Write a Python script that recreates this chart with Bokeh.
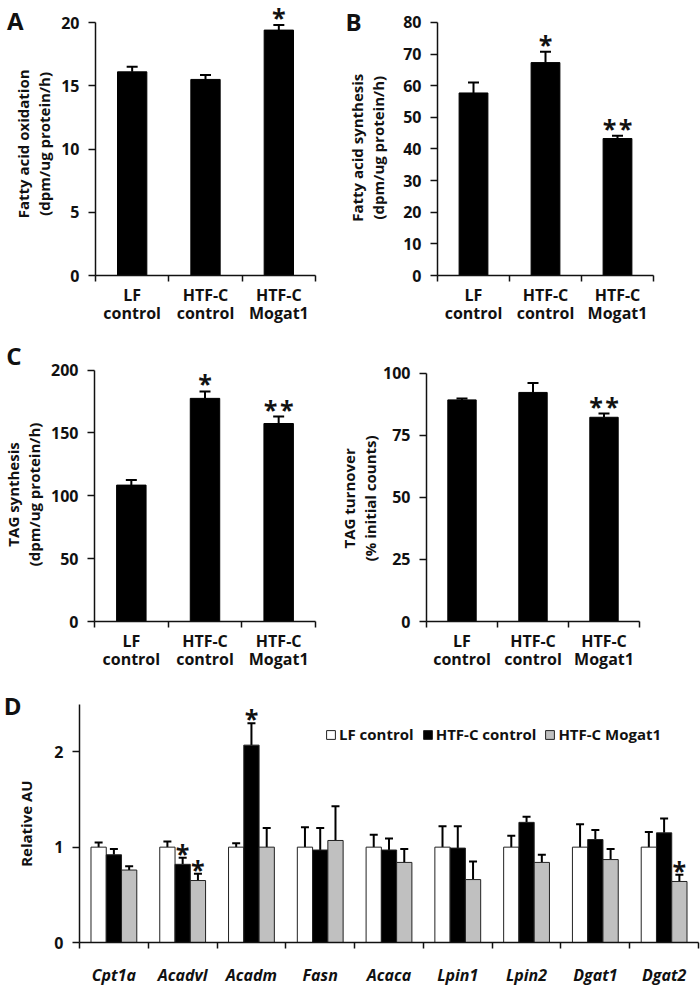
from bokeh.plotting import figure
from bokeh.models import (Range1d, FixedTicker, Whisker, ColumnDataSource,
                          Legend, LegendItem, TeeHead, LinearAxis)
from bokeh.layouts import column, row
from bokeh.embed import file_html
from bokeh.resources import INLINE
from bokeh.core.properties import value

# ---------------- data ----------------
groups = ["LF\ncontrol", "HTF-C\ncontrol", "HTF-C\nMogat1"]

fao_mean = [16.1, 15.5, 19.4]
fao_err = [0.4, 0.35, 0.4]
fao_sig = ["", "", "*"]

fas_mean = [57.7, 67.3, 43.3]
fas_err = [3.3, 3.4, 0.9]
fas_sig = ["", "*", "**"]

tags_mean = [108.5, 177.5, 157.5]
tags_err = [4.0, 5.5, 5.5]
tags_sig = ["", "*", "**"]

tagt_mean = [89.2, 92.2, 82.2]
tagt_err = [0.6, 3.8, 1.5]
tagt_sig = ["", "", "**"]

genes = ["Cpt1a", "Acadvl", "Acadm", "Fasn", "Acaca", "Lpin1", "Lpin2", "Dgat1", "Dgat2"]
series_names = ["LF control", "HTF-C control", "HTF-C Mogat1"]
lf_mean = [1.00, 1.00, 1.00, 1.00, 1.00, 1.00, 1.00, 1.00, 1.00]
lf_err = [0.05, 0.06, 0.04, 0.21, 0.13, 0.22, 0.12, 0.24, 0.16]
htf_mean = [0.92, 0.82, 2.07, 0.97, 0.97, 0.99, 1.26, 1.08, 1.15]
htf_err = [0.06, 0.07, 0.23, 0.23, 0.12, 0.23, 0.06, 0.10, 0.15]
mog_mean = [0.76, 0.65, 1.00, 1.07, 0.84, 0.66, 0.84, 0.87, 0.64]
mog_err = [0.04, 0.07, 0.20, 0.36, 0.14, 0.19, 0.08, 0.11, 0.07]
htf_sig = ["", "*", "*", "", "", "", "", "", ""]
mog_sig = ["", "*", "", "", "", "", "", "", "*"]

# ---------------- style ----------------
FONT = "Open Sans"
INK = "#111111"
GRAY = "#c0c0c0"
NBSP = "\u00a0"
TITLE_PX = 15


def star_text(sigs):
    return [s.replace("**", "*\u200a*") for s in sigs]


def padded_title(text, shift_px):
    # shift the centred (rotated) title downwards by padding the end of each line
    n = int(round(2 * shift_px / (0.26 * TITLE_PX)))
    return "\n".join(line + NBSP * n for line in text.split("\n"))


def style_axes(p, xs, labels, yticks, ymax, ylabel, title_standoff, label_standoff,
               italic=False):
    n = len(labels)
    p.xaxis.ticker = FixedTicker(ticks=xs, minor_ticks=list(range(n + 1)))
    p.xaxis.major_label_overrides = {x: l for x, l in zip(xs, labels)}
    p.xaxis.major_tick_line_color = None
    p.xaxis.major_tick_out = 0
    p.xaxis.major_tick_in = 0
    p.xaxis.minor_tick_line_color = INK
    p.xaxis.minor_tick_line_width = 1.5
    p.xaxis.minor_tick_out = 6
    p.xaxis.minor_tick_in = 0
    p.xaxis.major_label_standoff = label_standoff
    p.xaxis.major_label_text_font_style = "bold italic" if italic else "bold"
    p.xaxis.major_label_text_line_height = 0.85
    p.yaxis.ticker = FixedTicker(ticks=yticks, minor_ticks=[])
    p.yaxis.bounds = (0, ymax)
    p.yaxis.major_tick_out = 7
    p.yaxis.major_tick_in = 0
    p.yaxis.major_tick_line_width = 1.5
    p.yaxis.major_tick_line_color = INK
    p.yaxis.major_label_standoff = 9
    p.yaxis.major_label_text_font_style = "bold"
    p.yaxis.axis_label = ylabel
    p.yaxis.axis_label_standoff = title_standoff
    p.yaxis.axis_label_text_line_height = 1.05
    for ax in (p.xaxis, p.yaxis):
        ax.axis_line_color = INK
        ax.axis_line_width = 1.5
        ax.major_label_text_font = FONT
        ax.major_label_text_font_size = "16px"
        ax.major_label_text_color = INK
        ax.axis_label_text_font = FONT
        ax.axis_label_text_font_size = "%dpx" % TITLE_PX
        ax.axis_label_text_font_style = "bold"
        ax.axis_label_text_color = INK
    p.xgrid.visible = False
    p.ygrid.visible = False
    p.outline_line_color = None


def add_letter(p, letter, yval, shift):
    # panel letter drawn as the only tick label of an extra left axis
    ax = LinearAxis(ticker=FixedTicker(ticks=[yval], minor_ticks=[]),
                    major_label_overrides={yval: letter},
                    axis_line_color=None, major_tick_line_color=None,
                    major_tick_out=0, major_tick_in=0,
                    major_label_standoff=-shift,
                    major_label_text_font=FONT,
                    major_label_text_font_size="24px",
                    major_label_text_font_style="bold",
                    major_label_text_line_height=0.6,
                    major_label_text_color=INK)
    p.add_layout(ax, "left")


def make_fig(width, height, nx, ymax, left, right, top_px, axis_px):
    # top_px: space (px) above the ymax tick; frame extended upward to hold stars
    ytop = ymax * (1 + top_px / axis_px)
    return figure(width=width, height=height, x_range=Range1d(0, nx),
                  y_range=Range1d(0, ytop), output_backend="svg",
                  toolbar_location=None, min_border_left=left,
                  min_border_right=right, min_border_top=0,
                  min_border_bottom=height - top_px - axis_px)


def bar_panel(means, errs, sigs, ymax, yticks, ylabel, title_standoff, title_shift,
              width, height, left, right, top_px, axis_px):
    n = len(groups)
    xs = [i + 0.5 for i in range(n)]
    p = make_fig(width, height, n, ymax, left, right, top_px, axis_px)
    src = ColumnDataSource(dict(x=xs, top=means,
                                upper=[m + e for m, e in zip(means, errs)],
                                sig=star_text(sigs)))
    p.vbar(x="x", top="top", width=0.4, source=src, fill_color="black",
           line_color="black")
    w = Whisker(base="x", lower="top", upper="upper", source=src,
                dimension="height", line_width=2, line_color="black",
                upper_head=TeeHead(size=11, line_width=2, line_color="black"),
                lower_head=None)
    p.add_layout(w)
    p.text(x="x", y="upper", text="sig", source=src, text_font=value(FONT),
           text_font_style="bold", text_font_size="25px", text_align="center",
           text_baseline="alphabetic", y_offset=-8, text_color=INK)
    style_axes(p, xs, groups, yticks, ymax, padded_title(ylabel, title_shift),
               title_standoff, 2)
    return p


# A: ymax tick 22px below canvas top, 253px tall axis
pA = bar_panel(fao_mean, fao_err, fao_sig, 20, [0, 5, 10, 15, 20],
               "Fatty acid oxidation\n(dpm/ug protein/h)", 4, 6.5,
               336, 328, 95, 21, 22, 253)
add_letter(pA, "A", 20 * (1 + 9 / 253), 13)
pB = bar_panel(fas_mean, fas_err, fas_sig, 80, [0, 10, 20, 30, 40, 50, 60, 70, 80],
               "Fatty acid synthesis\n(dpm/ug protein/h)", 12, 9,
               364, 328, 101, 47, 22, 254)
add_letter(pB, "B", 80 * (1 + 10 / 254), 17)
pC = bar_panel(tags_mean, tags_err, tags_sig, 200, [0, 50, 100, 150, 200],
               "TAG synthesis\n(dpm/ug protein/h)", 4, 20,
               336, 345, 93, 21, 42, 254)
add_letter(pC, "C", 200 * (1 + 15 / 254), 21)
pT = bar_panel(tagt_mean, tagt_err, tagt_sig, 100, [0, 25, 50, 75, 100],
               "TAG turnover\n(% initial counts)", 0, 23,
               364, 345, 82, 61, 45, 251)

# ---------------- panel D ----------------
ng = len(genes)
gx = [i + 0.5 for i in range(ng)]
bw = 0.222
pD = make_fig(700, 315, ng, 2.5, 77, 2, 32, 249)
renderers = []
sig_lists = [None, htf_sig, mog_sig]
for k, (means, errs, fill) in enumerate([(lf_mean, lf_err, "white"),
                                         (htf_mean, htf_err, "black"),
                                         (mog_mean, mog_err, GRAY)]):
    off = (k - 1) * bw
    xk = [x + off for x in gx]
    src = ColumnDataSource(dict(x=xk, top=means,
                                upper=[m + e for m, e in zip(means, errs)],
                                sig=star_text(sig_lists[k]) if sig_lists[k] else [""] * ng))
    r = pD.vbar(x="x", top="top", width=bw, source=src, fill_color=fill,
                line_color="#222222", line_width=1)
    renderers.append(r)
    w = Whisker(base="x", lower="top", upper="upper", source=src,
                dimension="height", line_width=2, line_color="black",
                upper_head=TeeHead(size=8, line_width=2, line_color="black"),
                lower_head=None)
    pD.add_layout(w)
    if sig_lists[k]:
        pD.text(x="x", y="upper", text="sig", source=src, text_font=value(FONT),
                text_font_style="bold", text_font_size="25px",
                text_align="center", text_baseline="alphabetic", y_offset=-5,
                text_color=INK)

style_axes(pD, gx, genes, [0, 1, 2], 2.5, padded_title("Relative AU", 16.5), 15, 15,
           italic=True)
add_letter(pD, "D", 2.5 * (1 - 1 / 249), 8)

legend = Legend(items=[LegendItem(label=n, renderers=[r])
                       for n, r in zip(series_names, renderers)],
                location=(246, 198), orientation="horizontal",
                background_fill_alpha=0, border_line_color=None,
                label_text_font=FONT, label_text_font_size="15px",
                label_text_font_style="bold", label_text_color=INK,
                glyph_width=11, glyph_height=11, label_standoff=3,
                spacing=8, padding=0, margin=0)
pD.add_layout(legend)

layout = column(row(pA, pB), row(pC, pT), pD)
open("out.html", "w").write(file_html(layout, INLINE))
